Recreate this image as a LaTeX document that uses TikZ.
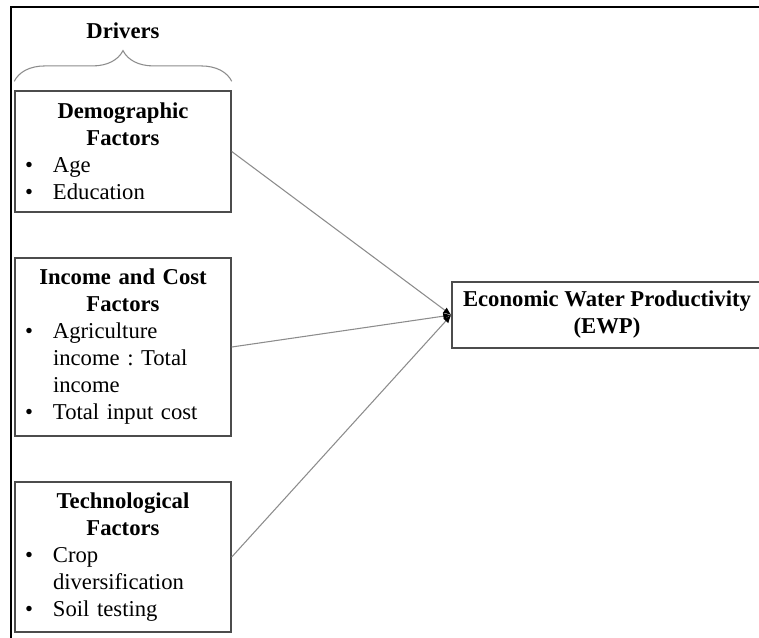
\documentclass[tikz,border=0pt]{standalone}
\usepackage{fontspec}
\setmainfont{Liberation Serif}
\usetikzlibrary{arrows.meta,decorations.pathreplacing}
\newcommand\bitem[1]{\par\noindent\hangindent=21pt\hangafter=1\makebox[21pt][l]{\textbullet}#1}
\frenchspacing

\begin{document}
\begin{tikzpicture}[x=0.75pt,y=-0.75pt]
  \useasboundingbox (0,0) rectangle (759,637);
  \clip (0,0) rectangle (759,637);
  \begin{scope}[font=\fontsize{17}{20.25}\selectfont,
      factor/.style={draw=black!70,line width=1.1pt,minimum width=162pt,text width=147pt,inner xsep=7.5pt,inner ysep=0pt},
      target/.style={draw=black!70,line width=1.1pt,minimum width=232.5pt,minimum height=49.5pt,align=center},
      link/.style={draw=black!45,line width=0.8pt,-{Latex[length=6pt,width=5pt,black]}}]
    \draw[line width=1.6pt] (11,650) |- (775,7) ;

    \node (drivers) at (123,31) {\bfseries Drivers} ;

    \node[factor,minimum height=90.75pt] (demo) at (123,151.5)
      {{\centering\bfseries Demographic\\Factors\par}\raggedright
       \bitem{Age}\bitem{Education}} ;
    \node[factor,minimum height=133.5pt] (income) at (123,347)
      {{\centering\bfseries Income and Cost\\Factors\par}\raggedright
       \bitem{Agriculture\newline income : Total\newline income}\bitem{Total input cost}} ;
    \node[factor,minimum height=112.5pt] (tech) at (123,557)
      {{\centering\bfseries Technological\\Factors\par}\raggedright
       \bitem{Crop\newline diversification}\bitem{Soil testing}} ;

    \node[target] (ewp) at (607,315) {\textbf{Economic Water Productivity}\\\textbf{(EWP)}} ;

    \draw[draw=black!45,line width=0.8pt,decorate,decoration={brace,amplitude=23pt}]
      ([yshift=6.75pt]demo.north west) -- ([yshift=6.75pt]demo.north east) ;

    \draw[link] (demo.east) -- (ewp.west) ;
    \draw[link] (income.east) -- (ewp.west) ;
    \draw[link] (tech.east) -- (ewp.west) ;
  \end{scope}
\end{tikzpicture}
\end{document}
